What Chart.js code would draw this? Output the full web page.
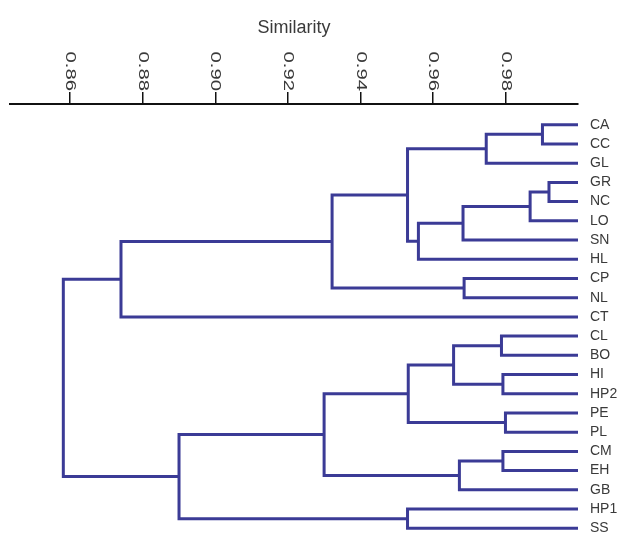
<!DOCTYPE html>
<html>
<head>
<meta charset="utf-8">
<script src="https://cdn.jsdelivr.net/npm/chart.js@4.4.0/dist/chart.umd.min.js"></script>
<style>
  html, body { margin: 0; padding: 0; background: #fff; }
  #wrap { width: 628px; height: 534px; }
</style>
</head>
<body>
<div id="wrap"><canvas id="myChart" width="628" height="534"></canvas></div>
<script>
// hojas del dendrograma, de arriba hacia abajo
const leaves = ['CA', 'CC', 'GL', 'GR', 'NC', 'LO', 'SN', 'HL', 'CP', 'NL', 'CT',
                'CL', 'BO', 'HI', 'HP2', 'PE', 'PL', 'CM', 'EH', 'GB', 'HP1', 'SS'];

// uniones: [nodo A, nodo B, similitud]; 0..21 son hojas, cada union crea el nodo 22 + k
const mergeA = [0, 22, 3, 24, 25, 26, 23, 8, 28, 30, 11, 13, 32, 15, 34, 17, 37, 36, 20, 39, 31];
const mergeB = [1, 2, 4, 5, 6, 7, 27, 9, 29, 10, 12, 14, 33, 16, 35, 18, 19, 38, 21, 40, 41];
const mergeSim = [0.9902, 0.9747, 0.9920, 0.9868, 0.9683, 0.9560, 0.9530, 0.9686, 0.9322, 0.8740,
                  0.9789, 0.9793, 0.9657, 0.9800, 0.9532, 0.9793, 0.9673, 0.9300, 0.9530, 0.8900, 0.8581];

const leafSim = 1.0;
const xTicks = [0.86, 0.88, 0.90, 0.92, 0.94, 0.96, 0.98];

const lineColor = '#3b3b96';

// calculo posicion (similitud, fila) de cada nodo
let nodeX = leaves.map(() => leafSim);
let nodeY = leaves.map((_, i) => i);
let datasets = [];
mergeSim.forEach((h, k) => {
    const a = mergeA[k], b = mergeB[k];
    datasets.push({
        data: [
            { x: nodeX[a], y: nodeY[a] },
            { x: h, y: nodeY[a] },
            { x: h, y: nodeY[b] },
            { x: nodeX[b], y: nodeY[b] }
        ],
        showLine: true,
        borderColor: lineColor,
        borderWidth: 3,
        borderJoinStyle: 'miter',
        pointRadius: 0,
        clip: false
    });
    nodeX.push(h);
    nodeY.push((nodeY[a] + nodeY[b]) / 2);
});

// etiquetas del eje superior, giradas hacia la derecha
const topLabels = {
    id: 'topLabels',
    afterDraw(chart) {
        const ctx = chart.ctx;
        const xs = chart.scales.x;
        ctx.save();
        ctx.font = '14px "Liberation Sans", Arial, sans-serif';
        ctx.fillStyle = '#3a3a3a';
        ctx.textAlign = 'right';
        ctx.textBaseline = 'middle';
        xTicks.forEach(v => {
            ctx.save();
            ctx.translate(xs.getPixelForValue(v), 91);
            ctx.rotate(Math.PI / 2);
            ctx.scale(1.45, 1);
            ctx.fillText(v.toFixed(2), 0, 0);
            ctx.restore();
        });
        ctx.restore();
    }
};

new Chart(document.getElementById('myChart'), {
    type: 'scatter',
    data: { datasets: datasets },
    options: {
        responsive: false,
        animation: false,
        layout: { padding: { left: 10, right: 0, top: 0, bottom: 0 } },
        plugins: { legend: { display: false }, tooltip: { enabled: false } },
        scales: {
            x: {
                type: 'linear',
                position: 'top',
                min: 0.8434,
                max: 1.0,
                afterBuildTicks: s => { s.ticks = xTicks.map(v => ({ value: v })); },
                afterFit: s => {
                    s.height = 104;
                    s.paddingLeft = 0;
                    s.paddingRight = 0;
                },
                ticks: { display: false },
                grid: { drawOnChartArea: false, drawTicks: true, tickLength: 12, color: '#111', lineWidth: 1.5 },
                border: { display: true, color: '#111', width: 2 },
                title: {
                    display: true,
                    text: 'Similarity',
                    color: '#3a3a3a',
                    font: { size: 18, family: '"Liberation Sans", Arial, sans-serif' },
                    padding: { top: 17, bottom: 0 }
                }
            },
            y: {
                type: 'linear',
                position: 'right',
                reverse: true,
                min: -1.08,
                max: 21.3,
                afterBuildTicks: s => { s.ticks = leaves.map((_, i) => ({ value: i })); },
                afterFit: s => {
                    s.width = 50;
                    s.paddingTop = 0;
                    s.paddingBottom = 0;
                },
                ticks: {
                    autoSkip: false,
                    padding: 12,
                    color: '#3a3a3a',
                    font: { size: 14, family: '"Liberation Sans", Arial, sans-serif' },
                    callback: v => leaves[v]
                },
                grid: { display: false, drawTicks: false },
                border: { display: false }
            }
        }
    },
    plugins: [topLabels]
});
</script>
</body>
</html>
